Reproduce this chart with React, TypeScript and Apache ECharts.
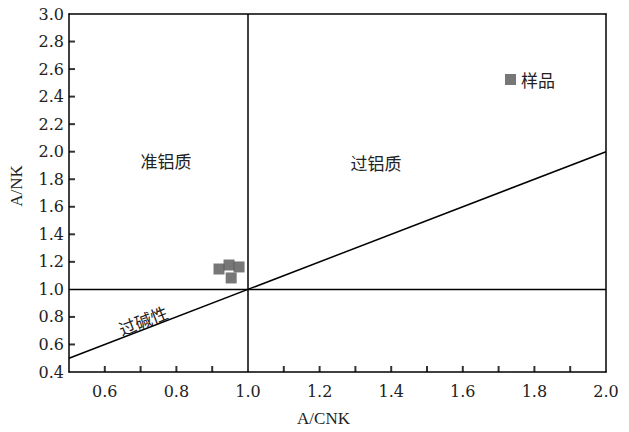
import React, { useEffect, useRef } from "react";
import * as echarts from "echarts";

const sampleName = "样品";
const sampleACNK = [0.919, 0.947, 0.975, 0.953];
const sampleANK = [1.148, 1.177, 1.163, 1.083];

const verticalLine = [[1.0, 0.4], [1.0, 3.0]];
const horizontalLine = [[0.5, 1.0], [2.0, 1.0]];
const diagonalLine = [[0.5, 0.5], [2.0, 2.0]];

const xTickValues = [0.6, 0.7, 0.8, 0.9, 1.1, 1.2, 1.3, 1.4, 1.5, 1.6, 1.7, 1.8, 1.9];
const yTickValues = [0.6, 0.8, 1.2, 1.4, 1.6, 1.8, 2.0, 2.2, 2.4, 2.6, 2.8];

const fieldLabels = ["准铝质", "过铝质", "过碱性"];

export default function App() {
  const ref = useRef<HTMLDivElement>(null);
  useEffect(() => {
    const chart = echarts.init(ref.current!, null, { renderer: "svg" });
    const numFont = "DejaVu Serif";
    const nameFont = "Liberation Serif";
    const cjk = "Noto Sans CJK SC";
    const lineStyle = { color: "#000", width: 1.5 };
    const mkLine = (d: number[][]) => ({
      type: "line",
      data: d,
      symbol: "none",
      lineStyle,
      silent: true,
      z: 3,
    });
    const TICK = 6;
    chart.setOption({
      animation: false,
      backgroundColor: "#fff",
      grid: { left: 69, right: 23, top: 14, bottom: 57 },
      legend: {
        left: 500,
        top: 66,
        itemWidth: 11,
        itemHeight: 11,
        itemGap: 6,
        textStyle: { fontFamily: cjk, fontSize: 17, color: "#222" },
        data: [{ name: sampleName, icon: "rect" }],
      },
      xAxis: [
        {
          type: "value",
          min: 0.5,
          max: 2.0,
          interval: 0.1,
          name: "A/CNK",
          nameLocation: "middle",
          nameGap: 38,
          nameTextStyle: {
            fontFamily: nameFont,
            fontSize: 17,
            color: "#222",
            padding: [0, 28, 0, 0],
          },
          axisLine: { show: true, onZero: false, lineStyle: { color: "#000", width: 1.5 } },
          axisTick: { show: false },
          splitLine: { show: false },
          axisLabel: {
            show: true,
            fontFamily: numFont,
            fontSize: 16,
            color: "#222",
            margin: 11,
            formatter: (v: number) => {
              const k = Math.round(v * 10);
              return k % 2 === 0 ? v.toFixed(1) : "";
            },
          },
        },
        {
          type: "value",
          position: "top",
          min: 0.5,
          max: 2.0,
          axisLine: { show: true, onZero: false, lineStyle: { color: "#000", width: 1.5 } },
          axisTick: { show: false },
          axisLabel: { show: false },
          splitLine: { show: false },
        },
      ],
      yAxis: [
        {
          type: "value",
          min: 0.4,
          max: 3.0,
          interval: 0.2,
          name: "A/NK",
          nameLocation: "middle",
          nameGap: 44,
          nameTextStyle: {
            fontFamily: nameFont,
            fontSize: 17,
            color: "#222",
            padding: [0, 0, 0, 14],
          },
          axisLine: { show: true, onZero: false, lineStyle: { color: "#000", width: 1.5 } },
          axisTick: { show: false },
          splitLine: { show: false },
          axisLabel: {
            show: true,
            fontFamily: numFont,
            fontSize: 16,
            color: "#222",
            margin: 5,
            formatter: (v: number) => v.toFixed(1),
          },
        },
        {
          type: "value",
          position: "right",
          min: 0.4,
          max: 3.0,
          axisLine: { show: true, onZero: false, lineStyle: { color: "#000", width: 1.5 } },
          axisTick: { show: false },
          axisLabel: { show: false },
          splitLine: { show: false },
        },
      ],
      series: [
        mkLine(verticalLine),
        mkLine(horizontalLine),
        mkLine(diagonalLine),
        {
          type: "scatter",
          silent: true,
          clip: false,
          z: 5,
          symbol: "rect",
          symbolSize: [2, TICK],
          symbolOffset: [0, -TICK / 2],
          itemStyle: { color: "#000" },
          data: xTickValues.map((v) => [v, 0.4]),
        },
        {
          type: "scatter",
          silent: true,
          clip: false,
          z: 5,
          symbol: "rect",
          symbolSize: [TICK, 2],
          symbolOffset: [TICK / 2, 0],
          itemStyle: { color: "#000" },
          data: yTickValues.map((v) => [0.5, v]),
        },
        {
          name: sampleName,
          type: "scatter",
          symbol: "rect",
          symbolSize: 11,
          itemStyle: { color: "#555" },
          data: sampleACNK.map((x, i) => [x, sampleANK[i]]),
          z: 4,
        },
      ],
      graphic: [
        {
          type: "text",
          x: 166,
          y: 160,
          style: {
            text: fieldLabels[0],
            font: `17px "${cjk}"`,
            fill: "#222",
            align: "center",
            verticalAlign: "middle",
          },
        },
        {
          type: "text",
          x: 376,
          y: 162,
          style: {
            text: fieldLabels[1],
            font: `17px "${cjk}"`,
            fill: "#222",
            align: "center",
            verticalAlign: "middle",
          },
        },
        {
          type: "text",
          x: 143,
          y: 320,
          rotation: 0.37,
          style: {
            text: fieldLabels[2],
            font: `17px "${cjk}"`,
            fill: "#222",
            align: "center",
            verticalAlign: "middle",
          },
        },
      ],
    });
    return () => chart.dispose();
  }, []);
  return (
    <div
      ref={ref}
      style={{ position: "absolute", left: 0, top: 0, width: 629, height: 432 }}
    />
  );
}
